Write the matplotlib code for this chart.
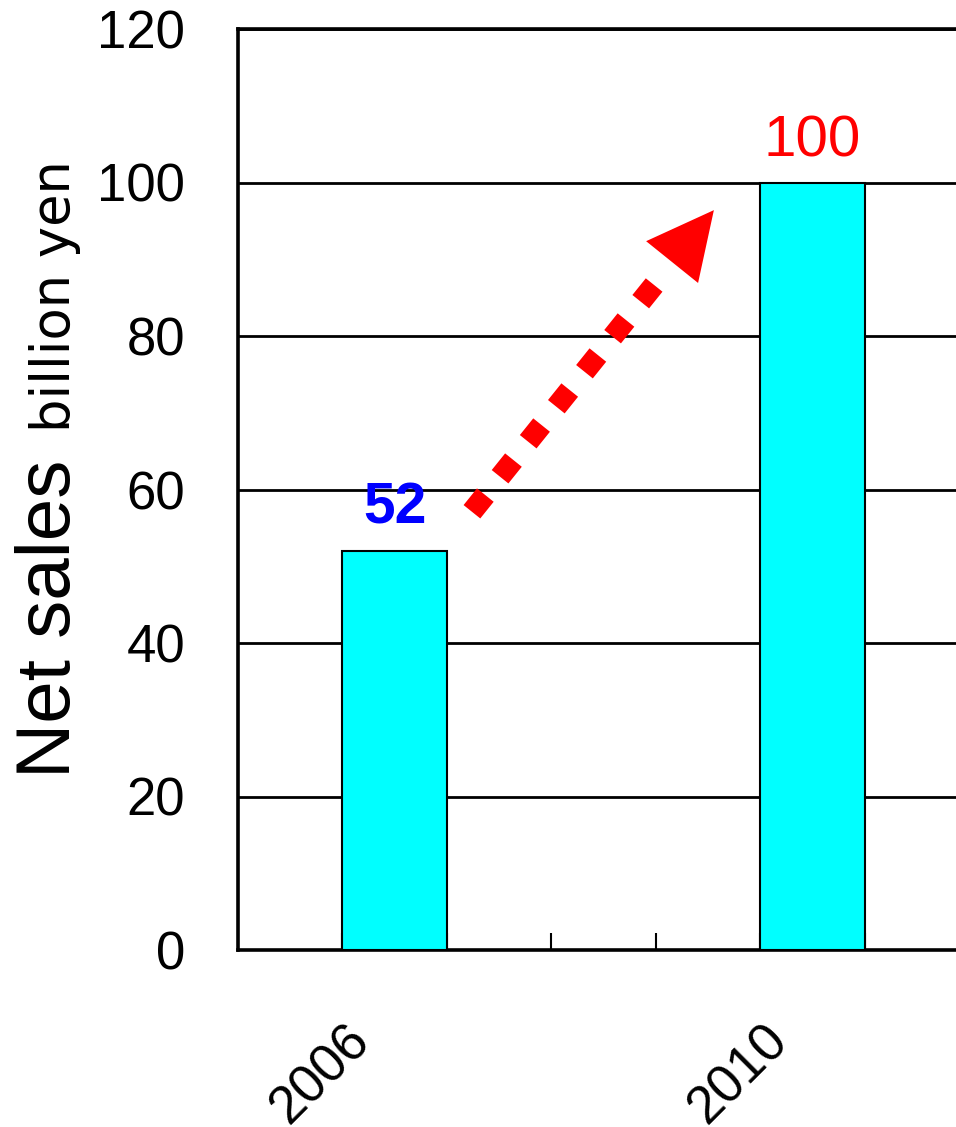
"""
Net sales bar chart, 2006 vs 2010, with a dotted growth arrow.
"""

import numpy as np
import matplotlib
matplotlib.use("Agg")
import matplotlib.pyplot as plt
from matplotlib.transforms import ScaledTranslation


# -------------------------------------------------
# Data
# -------------------------------------------------

years = ["2006", "2007", "2008", "2009", "2010"]
year_labels = ["2006", "", "", "", "2010"]
net_sales = [52, np.nan, np.nan, np.nan, 100]      # billion yen
value_labels = {0: "52", 4: "100"}

y_ticks = [0, 20, 40, 60, 80, 100, 120]

# growth arrow (data coords): dotted shaft, then solid head
arrow_shaft = [(0.74, 57.1), (2.50, 86.9)]
arrow_head = [(2.655, 89.6), (3.057, 96.4)]


# -------------------------------------------------
# Plot
# -------------------------------------------------

plt.rcParams["font.family"] = ["Liberation Sans", "DejaVu Sans"]

fig = plt.figure(figsize=(9.56, 11.27), dpi=100)
ax = fig.add_axes([238 / 956, 177 / 1127, 731 / 956, 921 / 1127])

x = np.arange(len(years))
ax.bar(x, net_sales, width=1.0, color="#00FFFF",
       edgecolor="black", linewidth=1.5, zorder=3)

ax.set_xlim(-1.5, 5.5)
ax.set_ylim(0, 120)

# grid + spines
ax.set_yticks(y_ticks)
ax.yaxis.grid(True, color="black", linewidth=2.0, zorder=1)
ax.set_axisbelow(True)
for side in ["top", "left", "bottom"]:
    ax.spines[side].set_linewidth(2.6)
ax.spines["right"].set_visible(False)

ax.tick_params(axis="y", length=0, pad=38, labelsize=38)

# category labels + boundary ticks
ax.set_xticks(x)
ax.set_xticklabels(year_labels)
ax.set_xticks(np.arange(-0.5, 5.0, 1.0), minor=True)
ax.tick_params(axis="x", which="major", length=0, labelsize=38)
ax.tick_params(axis="x", which="minor", direction="in", length=12, width=1.5)
shift = ScaledTranslation(-0.50, -0.60, fig.dpi_scale_trans)
for lab in ax.get_xticklabels():
    lab.set_rotation(45)
    lab.set_rotation_mode("anchor")
    lab.set_ha("right")
    lab.set_va("top")
    lab.set_transform(lab.get_transform() + shift)

# value labels
ax.annotate(value_labels[0], (x[0], net_sales[0]), xytext=(0, 20),
            textcoords="offset points", ha="center", va="baseline",
            color="#0000FF", fontsize=41, fontweight="bold")
ax.annotate(value_labels[4], (x[4], net_sales[4]), xytext=(0, 19),
            textcoords="offset points", ha="center", va="baseline",
            color="#FF0000", fontsize=42)

# growth arrow
(sx0, sy0), (sx1, sy1) = arrow_shaft
ax.plot([sx0, sx1], [sy0, sy1], color="#FF0000", linewidth=15.4,
        linestyle=(0, (1, 1.1)), solid_capstyle="butt",
        dash_capstyle="butt", zorder=4)
ax.annotate("", xy=arrow_head[1], xytext=arrow_head[0],
            arrowprops=dict(arrowstyle="-|>,head_length=4.8,head_width=2.4",
                            mutation_scale=10, color="#FF0000", lw=0,
                            shrinkA=0, shrinkB=0),
            zorder=4)

# y-axis title in two sizes, baseline-aligned
fig.text(70 / 956, 1 - 778 / 1127, "Net sales", rotation=90,
         rotation_mode="anchor", ha="left", va="baseline", fontsize=55)
fig.text(70 / 956, 1 - 432 / 1127, "billion yen", rotation=90,
         rotation_mode="anchor", ha="left", va="baseline", fontsize=38,
         family=["DejaVu Sans"])

fig.savefig("out.png", dpi=100)
